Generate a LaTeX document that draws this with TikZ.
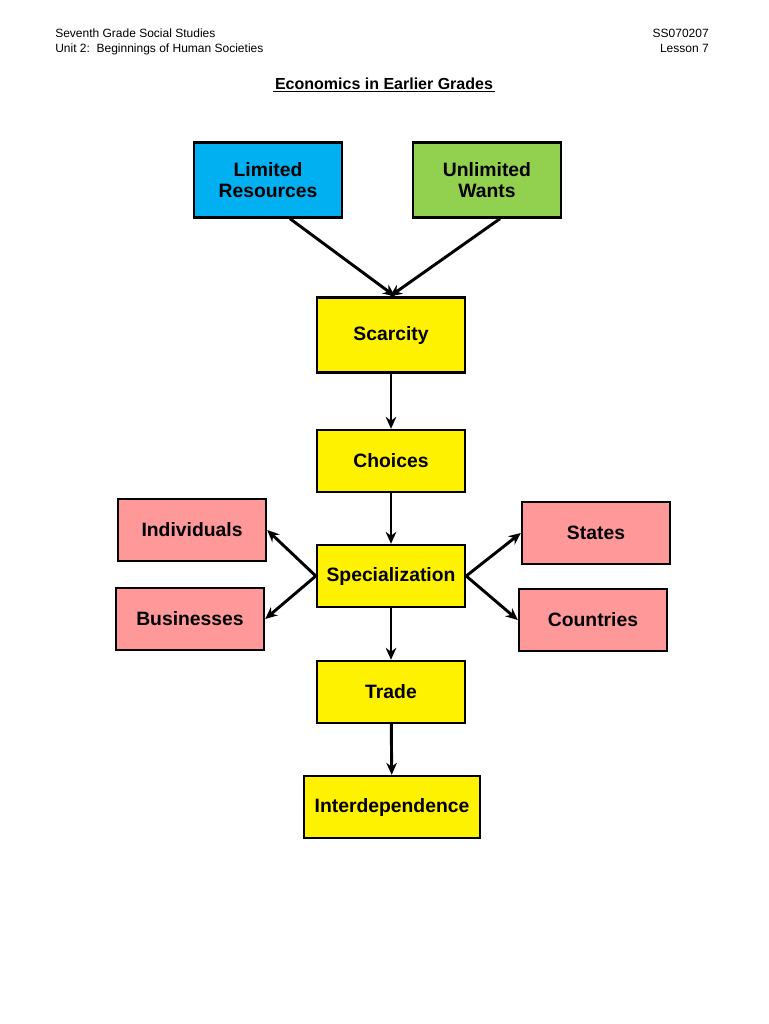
\documentclass[tikz,border=0pt]{standalone}
\usepackage{fontspec}
\setmainfont{Liberation Sans}
\usetikzlibrary{arrows.meta, positioning}

\begin{document}
\begin{tikzpicture}[x=0.75pt, y=-0.75pt,
            box/.style={draw, line width=1.8pt, font=\fontsize{14.5}{16}\selectfont\bfseries, align=center, inner sep=0pt},
            link/.style={-{Stealth[length=9pt,width=8pt]}, line width=2.2pt},
            head/.style={font=\fontsize{9}{11}\selectfont, inner sep=0pt}
        ]
        \useasboundingbox (0,0) rectangle (768,1024);

        % Header
        \node[head, anchor=north west, align=left] (hl) at (55,29) {Seventh Grade Social Studies\\Unit 2:\ \ Beginnings of Human Societies};
        \node[head, anchor=north east, align=right] (hr) at (709,29) {SS070207\\Lesson 7};
        \node[font=\fontsize{12}{14}\selectfont\bfseries, inner sep=1pt] (title) at (384,84) {Economics in Earlier Grades};
        \draw[line width=0.8pt] (title.south west) -- (title.south east);

        % Boxes (manual layout)
        \node[box, fill={rgb,255:red,0;green,176;blue,240}, minimum width=148*0.75pt, minimum height=75*0.75pt] (lim) at (268,180) {Limited\\Resources};
        \node[box, fill={rgb,255:red,146;green,208;blue,80}, minimum width=148*0.75pt, minimum height=75*0.75pt] (want) at (487,180) {Unlimited\\Wants};
        \node[box, fill=yellow, minimum width=148*0.75pt, minimum height=75*0.75pt] (scar) at (391,335) {Scarcity};
        \node[box, fill=yellow, minimum width=148*0.75pt, minimum height=62*0.75pt] (choi) at (391,461) {Choices};
        \node[box, fill=yellow, minimum width=148*0.75pt, minimum height=62*0.75pt] (spec) at (391,576) {Specialization};
        \node[box, fill=yellow, minimum width=148*0.75pt, minimum height=62*0.75pt] (trad) at (391,692) {Trade};
        \node[box, fill=yellow, minimum width=176*0.75pt, minimum height=62*0.75pt] (inter) at (392,807) {Interdependence};
        \node[box, fill={rgb,255:red,255;green,153;blue,153}, minimum width=148*0.75pt, minimum height=62*0.75pt] (ind) at (192,530) {Individuals};
        \node[box, fill={rgb,255:red,255;green,153;blue,153}, minimum width=148*0.75pt, minimum height=62*0.75pt] (bus) at (190,619) {Businesses};
        \node[box, fill={rgb,255:red,255;green,153;blue,153}, minimum width=148*0.75pt, minimum height=62*0.75pt] (sta) at (596,533) {States};
        \node[box, fill={rgb,255:red,255;green,153;blue,153}, minimum width=148*0.75pt, minimum height=62*0.75pt] (cou) at (593,620) {Countries};

        % Arrows
        \draw[link] ([xshift=22*0.75pt]lim.south) -- ([xshift=4*0.75pt]scar.north);
        \draw[link] ([xshift=13*0.75pt]want.south) -- ([xshift=-1*0.75pt]scar.north);
        \draw[link] (scar) -- (choi);
        \draw[link] (choi) -- (spec);
        \draw[link] (spec) -- (trad);
        \draw[link] (trad) -- (inter);
        \draw[link] (spec.west) -- (ind.east);
        \draw[link] (spec.west) -- (bus.east);
        \draw[link] (spec.east) -- (sta.west);
        \draw[link] (spec.east) -- (cou.west);
        \end{tikzpicture}
\end{document}
